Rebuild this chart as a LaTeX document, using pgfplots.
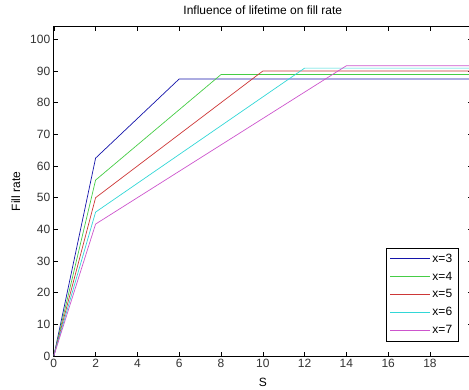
\documentclass[border=0pt]{standalone}
\usepackage{fontspec}
\setmainfont{Liberation Sans}
\usepackage{pgfplots}
\pgfplotsset{compat=1.18}
\usetikzlibrary{calc}
\definecolor{cB}{RGB}{20,20,170}
\definecolor{cG}{RGB}{70,205,70}
\definecolor{cR}{RGB}{205,55,55}
\definecolor{cC}{RGB}{50,215,215}
\definecolor{cM}{RGB}{205,85,205}
\begin{document}
\begin{tikzpicture}
\begin{axis}[
  width=418pt, height=329.3pt, scale only axis,
  xmin=0, xmax=20, ymin=0, ymax=104,
  xtick={0,2,...,18}, ytick={0,10,...,100},
  tick align=inside, major tick length=4pt,
  tick style={black, line width=0.5pt},
  axis line style={line width=0.6pt},
  /pgf/number format/assume math mode=true,
  ticklabel style={font=\fontsize{12}{14}\selectfont, text=black!80},
  title={Influence of lifetime on fill rate},
  title style={font=\fontsize{12}{14}\selectfont, at={(axis description cs:0.5,1.033)}, anchor=center},
  xlabel={S}, ylabel={Fill rate},
  xlabel style={font=\fontsize{12}{14}\selectfont, at={(axis description cs:0.5,-0.081)}, anchor=center},
  ylabel style={font=\fontsize{12}{14}\selectfont, at={(axis description cs:-0.0909,0.5)}, anchor=center},
  legend style={at={(axis description cs:0.968,0.045)}, anchor=south east,
    font=\fontsize{12}{14}\selectfont, draw=black, line width=0.5pt,
    row sep=4pt, inner xsep=4pt, inner ysep=4pt},
  legend cell align=left,
  legend image code/.code={\draw[#1, line width=0.7pt] (0pt,0pt) -- (40pt,0pt);},
  every axis plot/.append style={line width=0.7pt},
]
\addplot[cB] coordinates {(0,0) (2,62.5) (6,87.5) (20,87.5)};
\addplot[cG] coordinates {(0,0) (2,55.56) (8,88.89) (20,88.89)};
\addplot[cR] coordinates {(0,0) (2,50) (10,90) (20,90)};
\addplot[cC] coordinates {(0,0) (2,45.45) (12,90.91) (20,90.91)};
\addplot[cM] coordinates {(0,0) (2,41.67) (14,91.67) (20,91.67)};
\legend{x=3,x=4,x=5,x=6,x=7}
\end{axis}
\pgfresetboundingbox
\path ($(current axis.south west)+(-53.8pt,-33pt)$) rectangle ($(current axis.north east)+(-2.8pt,26.7pt)$);
\end{tikzpicture}
\end{document}
